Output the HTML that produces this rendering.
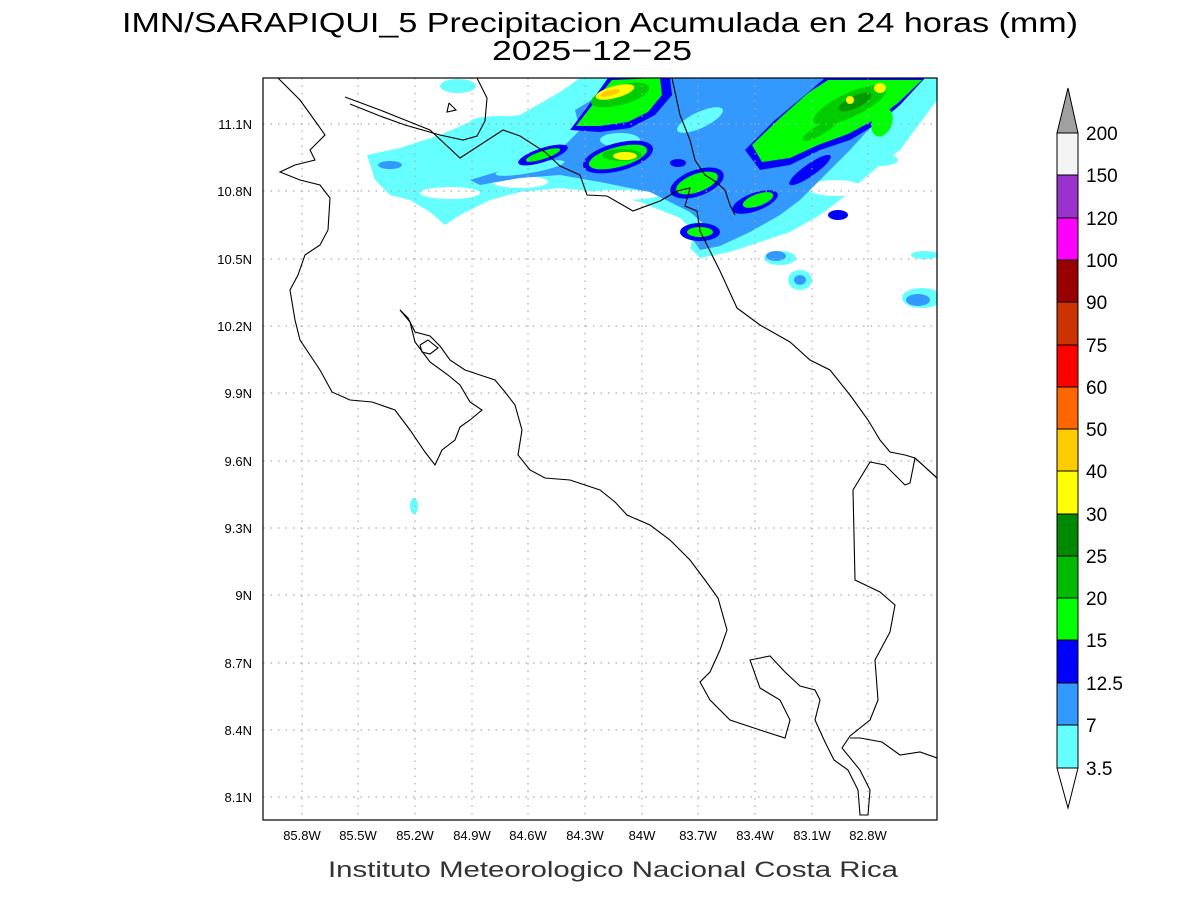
<!DOCTYPE html>
<html><head><meta charset="utf-8"><style>
body{margin:0;background:#fff}
svg{display:block}
text{font-family:"Liberation Sans",sans-serif}
</style></head><body>
<svg width="1200" height="900" viewBox="0 0 1200 900" xmlns="http://www.w3.org/2000/svg">
<rect width="1200" height="900" fill="#fff"/>
<text x="122" y="32" font-size="28" textLength="956" lengthAdjust="spacingAndGlyphs" fill="#000">IMN/SARAPIQUI_5 Precipitacion Acumulada en 24 horas (mm)</text>
<text x="492" y="60" font-size="28" textLength="200" lengthAdjust="spacingAndGlyphs" fill="#000">2025−12−25</text>
<defs><clipPath id="c"><rect x="263" y="78" width="674" height="742"/></clipPath></defs>
<g clip-path="url(#c)">
<g fill="#66ffff">
<polygon points="367,155 400,148 440,135 470,122 520,115 560,92 580,78 937,78 937,100 900,150 880,165 860,182 840,200 820,215 790,232 760,242 730,252 700,258 690,248 695,232 680,218 640,202 600,192 560,188 520,192 490,200 460,215 445,225 430,212 410,200 390,195 375,180"/>
<ellipse cx="500" cy="122" rx="30" ry="6"/>
<ellipse cx="458" cy="86" rx="18" ry="7"/>
<ellipse cx="880" cy="160" rx="18" ry="6"/>
<ellipse cx="780" cy="258" rx="16" ry="7"/>
<ellipse cx="800" cy="280" rx="12" ry="10"/>
<ellipse cx="922" cy="298" rx="20" ry="10"/>
<ellipse cx="925" cy="255" rx="14" ry="4"/>
<ellipse cx="414" cy="506" rx="4" ry="8"/>
</g>
<g fill="#fff">
<ellipse cx="450" cy="193" rx="30" ry="6"/>
<ellipse cx="520" cy="182" rx="28" ry="6"/>
<ellipse cx="620" cy="195" rx="40" ry="5"/>
<ellipse cx="760" cy="90" rx="35" ry="10" transform="rotate(-35 760 90)"/>
<ellipse cx="790" cy="125" rx="20" ry="8" transform="rotate(-30 790 125)"/>
<ellipse cx="835" cy="188" rx="28" ry="8"/>
</g>
<g fill="#3399ff">
<polygon points="470,180 520,165 560,150 580,130 575,110 600,95 620,78 915,78 900,100 870,128 850,150 820,180 800,200 780,215 750,232 720,246 700,250 692,238 705,225 690,212 650,192 600,182 560,175 520,178 480,185"/>
<ellipse cx="776" cy="256" rx="10" ry="5"/>
<ellipse cx="800" cy="280" rx="6" ry="5"/>
<ellipse cx="918" cy="300" rx="12" ry="6"/>
<ellipse cx="390" cy="165" rx="12" ry="4"/>
</g>
<g fill="#66ffff">
<ellipse cx="700" cy="120" rx="25" ry="8" transform="rotate(-25 700 120)"/>
<ellipse cx="620" cy="140" rx="20" ry="7"/>
<ellipse cx="775" cy="150" rx="20" ry="6" transform="rotate(-30 775 150)"/>
<ellipse cx="530" cy="168" rx="35" ry="5" transform="rotate(-10 530 168)"/>
</g>
<g fill="#0000ff">
<polygon points="570,130 585,110 598,92 608,78 670,78 672,95 655,115 630,128 600,132"/>
<ellipse cx="618" cy="157" rx="36" ry="14" transform="rotate(-15 618 157)"/>
<ellipse cx="543" cy="155" rx="26" ry="7" transform="rotate(-18 543 155)"/>
<polygon points="745,150 775,120 805,95 825,78 925,78 900,105 880,122 850,140 820,150 790,165 760,170"/>
<ellipse cx="697" cy="183" rx="28" ry="13" transform="rotate(-20 697 183)"/>
<ellipse cx="700" cy="232" rx="20" ry="9"/>
<ellipse cx="755" cy="202" rx="24" ry="9" transform="rotate(-20 755 202)"/>
<ellipse cx="838" cy="215" rx="10" ry="5"/>
<ellipse cx="810" cy="170" rx="25" ry="6" transform="rotate(-35 810 170)"/>
<ellipse cx="678" cy="163" rx="8" ry="4"/>
</g>
<g fill="#00ff00">
<polygon points="576,126 590,108 602,92 612,80 660,78 662,95 648,112 628,122 600,126"/>
<ellipse cx="618" cy="157" rx="30" ry="10" transform="rotate(-15 618 157)"/>
<ellipse cx="543" cy="155" rx="18" ry="4" transform="rotate(-18 543 155)"/>
<polygon points="752,145 780,118 808,93 828,80 922,80 898,103 878,118 848,134 818,145 790,158 762,162"/>
<ellipse cx="697" cy="183" rx="22" ry="9" transform="rotate(-20 697 183)"/>
<ellipse cx="700" cy="232" rx="13" ry="5"/>
<ellipse cx="758" cy="200" rx="16" ry="6" transform="rotate(-20 758 200)"/>
<ellipse cx="882" cy="122" rx="10" ry="15" transform="rotate(20 882 122)"/>
</g>
<g fill="#00cc00">
<ellipse cx="622" cy="155" rx="20" ry="6"/>
<ellipse cx="620" cy="95" rx="30" ry="10" transform="rotate(-15 620 95)"/>
<ellipse cx="850" cy="105" rx="40" ry="12" transform="rotate(-25 850 105)"/>
<ellipse cx="820" cy="130" rx="20" ry="5" transform="rotate(-30 820 130)"/>
</g>
<g fill="#009900">
<ellipse cx="855" cy="102" rx="18" ry="6" transform="rotate(-25 855 102)"/>
</g>
<g fill="#ffff00">
<ellipse cx="625" cy="156" rx="12" ry="4"/>
<ellipse cx="615" cy="92" rx="20" ry="6" transform="rotate(-15 615 92)"/>
<ellipse cx="850" cy="100" rx="4" ry="4"/>
<ellipse cx="880" cy="88" rx="6" ry="5"/>
</g>
<g fill="#ffcc00">
<ellipse cx="610" cy="93" rx="10" ry="3" transform="rotate(-15 610 93)"/>
</g>
</g>
<g stroke="#aaa" stroke-width="1.2" stroke-dasharray="1.5,6">
<line x1="263" y1="124" x2="937" y2="124"/><line x1="263" y1="191" x2="937" y2="191"/>
<line x1="263" y1="259" x2="937" y2="259"/><line x1="263" y1="326" x2="937" y2="326"/>
<line x1="263" y1="393" x2="937" y2="393"/><line x1="263" y1="461" x2="937" y2="461"/>
<line x1="263" y1="528" x2="937" y2="528"/><line x1="263" y1="595" x2="937" y2="595"/>
<line x1="263" y1="663" x2="937" y2="663"/><line x1="263" y1="730" x2="937" y2="730"/>
<line x1="263" y1="797" x2="937" y2="797"/>
<line x1="302" y1="78" x2="302" y2="820"/><line x1="358" y1="78" x2="358" y2="820"/>
<line x1="415" y1="78" x2="415" y2="820"/><line x1="472" y1="78" x2="472" y2="820"/>
<line x1="528" y1="78" x2="528" y2="820"/><line x1="585" y1="78" x2="585" y2="820"/>
<line x1="642" y1="78" x2="642" y2="820"/><line x1="698" y1="78" x2="698" y2="820"/>
<line x1="755" y1="78" x2="755" y2="820"/><line x1="812" y1="78" x2="812" y2="820"/>
<line x1="868" y1="78" x2="868" y2="820"/>
</g>
<g fill="none" stroke="#000" stroke-width="1.1" clip-path="url(#c)">
<polyline points="278,78 300,100 318,125 325,135 310,150 315,160 295,165 280,172 300,180 320,185 330,198 328,230 320,245 305,255 298,275 290,290 295,320 300,340 320,370 332,392 350,400 372,402 395,410 410,430 425,452 435,465 442,450 455,440 460,427 470,420 482,410 470,402 460,385 448,375 430,362 415,342 410,322 400,310"/>
<polyline points="400,310 408,318 415,332 430,336 440,346 450,360 465,370 480,375 495,380 505,392 515,405 522,430 518,455 530,470 545,478 570,480 600,490 615,502 627,515 650,525 670,540 690,560 705,580 718,598 727,630 720,650 710,672 700,682 710,700 730,720 760,730 785,738 790,720 780,700 760,688 750,660 770,656 785,672 800,686 815,690 820,700 815,720 825,742 834,760 848,770 858,790 860,815 868,815 870,790 860,770 842,748 850,736 870,720 878,700 875,660 890,632 895,605 880,592 855,580 853,490 870,462 885,465 905,485 910,483 915,458 937,478"/>
<polyline points="420,345 428,340 438,348 430,354 422,352 420,345"/>
<polyline points="345,97 380,110 400,118 430,130 460,158 503,130 520,136 545,152 560,166 580,175 587,195 607,196 633,211 660,201 677,191 690,188 685,206 697,211 700,231 710,251 720,271 737,308 760,325 790,342 810,360 830,370 850,395 868,420 880,440 890,452 905,455 915,458 937,478"/>
<polyline points="350,104 380,116 405,125 440,135 463,140 477,136 485,121 487,98 477,78"/>
<polyline points="672,78 680,115 690,140 695,160 705,175 716,182 725,190 730,205 735,215"/>
<polyline points="449,103 456,110 447,112 449,103"/>
<polyline points="937,758 920,752 900,755 882,742 860,738 850,738"/>
</g>
<rect x="263" y="78" width="674" height="742" fill="none" stroke="#000" stroke-width="1.2"/>
<g font-size="13" text-anchor="end" fill="#000">
<text x="252" y="129">11.1N</text><text x="252" y="196">10.8N</text><text x="252" y="264">10.5N</text>
<text x="252" y="331">10.2N</text><text x="252" y="398">9.9N</text><text x="252" y="466">9.6N</text>
<text x="252" y="533">9.3N</text><text x="252" y="600">9N</text><text x="252" y="668">8.7N</text>
<text x="252" y="735">8.4N</text><text x="252" y="802">8.1N</text>
</g>
<g font-size="13" text-anchor="middle" fill="#000">
<text x="302" y="840">85.8W</text><text x="358" y="840">85.5W</text><text x="415" y="840">85.2W</text>
<text x="472" y="840">84.9W</text><text x="528" y="840">84.6W</text><text x="585" y="840">84.3W</text>
<text x="642" y="840">84W</text><text x="698" y="840">83.7W</text><text x="755" y="840">83.4W</text>
<text x="812" y="840">83.1W</text><text x="868" y="840">82.8W</text>
</g>
<text x="328" y="877" font-size="22" textLength="570" lengthAdjust="spacingAndGlyphs" fill="#333">Instituto Meteorologico Nacional Costa Rica</text>
<g stroke="#000" stroke-width="1">
<polygon points="1057,133 1078,133 1068,88" fill="#a0a0a0"/>
<rect x="1057" y="133" width="21" height="42" fill="#f4f4f4"/>
<rect x="1057" y="175" width="21" height="43" fill="#9933cc"/>
<rect x="1057" y="218" width="21" height="42" fill="#ff00ff"/>
<rect x="1057" y="260" width="21" height="42" fill="#990000"/>
<rect x="1057" y="302" width="21" height="43" fill="#cc3300"/>
<rect x="1057" y="345" width="21" height="42" fill="#ff0000"/>
<rect x="1057" y="387" width="21" height="42" fill="#ff6600"/>
<rect x="1057" y="429" width="21" height="42" fill="#ffcc00"/>
<rect x="1057" y="471" width="21" height="43" fill="#ffff00"/>
<rect x="1057" y="514" width="21" height="42" fill="#008800"/>
<rect x="1057" y="556" width="21" height="42" fill="#00bb00"/>
<rect x="1057" y="598" width="21" height="42" fill="#00ff00"/>
<rect x="1057" y="640" width="21" height="43" fill="#0000ff"/>
<rect x="1057" y="683" width="21" height="42" fill="#3399ff"/>
<rect x="1057" y="725" width="21" height="43" fill="#66ffff"/>
<polygon points="1057,768 1078,768 1068,808" fill="#fff"/>
</g>
<g font-size="19" fill="#000">
<text x="1086" y="140">200</text><text x="1086" y="182">150</text><text x="1086" y="225">120</text>
<text x="1086" y="267">100</text><text x="1086" y="309">90</text><text x="1086" y="352">75</text>
<text x="1086" y="394">60</text><text x="1086" y="436">50</text><text x="1086" y="478">40</text>
<text x="1086" y="521">30</text><text x="1086" y="563">25</text><text x="1086" y="605">20</text>
<text x="1086" y="647">15</text><text x="1086" y="690">12.5</text><text x="1086" y="732">7</text>
<text x="1086" y="775">3.5</text>
</g>
</svg>
</body></html>
